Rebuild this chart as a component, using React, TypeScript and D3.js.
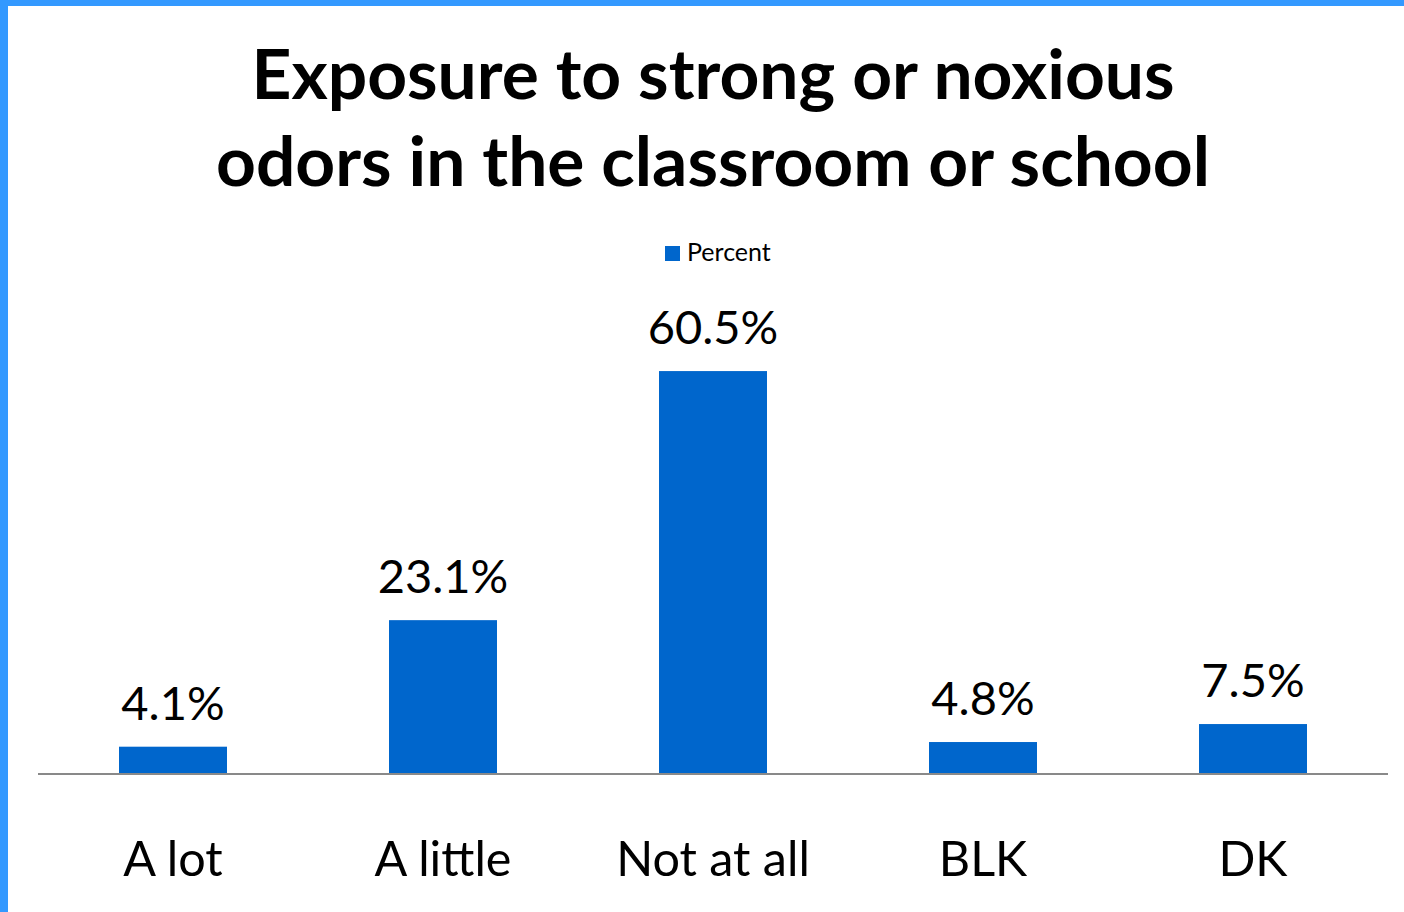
import React from "react";
import * as d3 from "d3";

const categories: string[] = ["A lot", "A little", "Not at all", "BLK", "DK"];
const percentValues: number[] = [4.1, 23.1, 60.5, 4.8, 7.5];
const seriesName = "Percent";
const titleLines: string[] = ["Exposure to strong or noxious", "odors in the classroom or school"];

const W = 1404;
const H = 912;
const FONT = "Lato, 'Noto Sans', sans-serif";

export default function App() {
  const x = d3.scaleBand<string>().domain(categories).range([38, 1388]).paddingInner(0.6).paddingOuter(0.3);
  const y = d3.scaleLinear().domain([0, 70]).range([774, 774 - 70 * 6.66]);
  const cx = (c: string) => (x(c) as number) + x.bandwidth() / 2;
  const midX = (38 + 1388) / 2;

  return (
    <svg
      width={W}
      height={H}
      style={{ position: "absolute", left: 0, top: 0, background: "#fff" }}
      fontFamily={FONT}
    >
      <rect x={0} y={0} width={W} height={H} fill="#fff" />
      <rect x={0} y={0} width={W} height={6} fill="#3399FF" />
      <rect x={0} y={0} width={8} height={H} fill="#3399FF" />

      {titleLines.map((t, i) => (
        <text key={t} x={midX} y={99 + i * 87} textAnchor="middle" fontSize={69.5} fontWeight={700} fill="#000">
          {t}
        </text>
      ))}

      <rect x={665} y={246} width={15} height={15} fill="#0066CC" />
      <text x={687} y={261} fontSize={25} fill="#000">{seriesName}</text>

      {categories.map((c, i) => (
        <g key={c}>
          <rect x={x(c)} y={y(percentValues[i])} width={x.bandwidth()} height={y(0) - y(percentValues[i])} fill="#0066CC" />
          <text x={cx(c)} y={y(percentValues[i]) - 27} textAnchor="middle" fontSize={47} fill="#000">
            {percentValues[i].toFixed(1)}%
          </text>
          <text x={cx(c)} y={876} textAnchor="middle" fontSize={48.5} fill="#000">
            {c}
          </text>
        </g>
      ))}

      <line x1={38} x2={1388} y1={y(0)} y2={y(0)} stroke="#898989" strokeWidth={2} />
    </svg>
  );
}
